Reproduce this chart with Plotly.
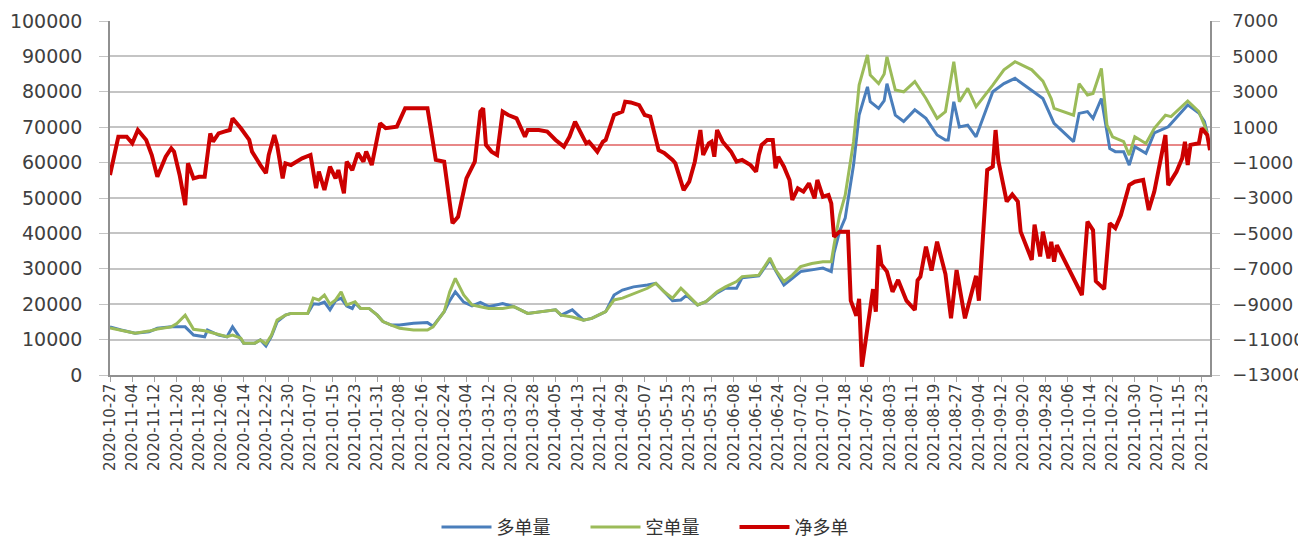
import pandas as pd
import plotly.graph_objects as go

# ---------------- data ----------------
long_dates = [
    "2020-10-27", "2020-10-31", "2020-11-05", "2020-11-10", "2020-11-13", "2020-11-18", "2020-11-23",
    "2020-11-26", "2020-11-30", "2020-12-01", "2020-12-05", "2020-12-08", "2020-12-10", "2020-12-13",
    "2020-12-14", "2020-12-18", "2020-12-20", "2020-12-22", "2020-12-24", "2020-12-26", "2020-12-29",
    "2020-12-31", "2021-01-06", "2021-01-08", "2021-01-10", "2021-01-12", "2021-01-14", "2021-01-16",
    "2021-01-18", "2021-01-20", "2021-01-22", "2021-01-23", "2021-01-25", "2021-01-28", "2021-01-31",
    "2021-02-02", "2021-02-05", "2021-02-08", "2021-02-13", "2021-02-18", "2021-02-20", "2021-02-24",
    "2021-02-26", "2021-02-28", "2021-03-03", "2021-03-06", "2021-03-09", "2021-03-12", "2021-03-17",
    "2021-03-21", "2021-03-26", "2021-03-31", "2021-04-05", "2021-04-07", "2021-04-11", "2021-04-15",
    "2021-04-18", "2021-04-23", "2021-04-26", "2021-04-29", "2021-05-03", "2021-05-08", "2021-05-11",
    "2021-05-14", "2021-05-17", "2021-05-20", "2021-05-22", "2021-05-26", "2021-05-29", "2021-06-02",
    "2021-06-05", "2021-06-09", "2021-06-11", "2021-06-17", "2021-06-21", "2021-06-23", "2021-06-26",
    "2021-06-29", "2021-07-02", "2021-07-06", "2021-07-10", "2021-07-13", "2021-07-14", "2021-07-16",
    "2021-07-18", "2021-07-21", "2021-07-23", "2021-07-26", "2021-07-27", "2021-07-30", "2021-08-01",
    "2021-08-02", "2021-08-05", "2021-08-08", "2021-08-12", "2021-08-16", "2021-08-20", "2021-08-23",
    "2021-08-24", "2021-08-26", "2021-08-28", "2021-08-31", "2021-09-03", "2021-09-09", "2021-09-13",
    "2021-09-17", "2021-09-23", "2021-09-27", "2021-10-01", "2021-10-08", "2021-10-10", "2021-10-13",
    "2021-10-15", "2021-10-18", "2021-10-21", "2021-10-23", "2021-10-26", "2021-10-28", "2021-10-30",
    "2021-11-03", "2021-11-06", "2021-11-11", "2021-11-18", "2021-11-22", "2021-11-24", "2021-11-25",
]
long_vals = [
    13600, 12700, 11800, 12200, 13200, 13600, 13600,
    11300, 10800, 12700, 11300, 10800, 13600, 10400,
    9000, 9000, 9900, 8200, 11000, 15000, 16900,
    17400, 17400, 20100, 20000, 20600, 18400, 21000,
    21700, 19500, 18800, 20300, 18800, 18800, 16900,
    15100, 14100, 14100, 14600, 14800, 13800, 17900,
    21000, 23500, 20600, 19500, 20500, 19300, 20200,
    19300, 17400, 17900, 18400, 16900, 18400, 15500,
    16000, 17900, 22600, 24000, 24900, 25400, 25900,
    23500, 21000, 21200, 22500, 19800, 20700, 23200,
    24500, 24500, 27500, 28000, 32500, 29500, 25400,
    27300, 29200, 29700, 30200, 29200, 34500, 40600,
    44300, 59300, 73400, 81400, 77200, 75300, 77500,
    82300, 73400, 71600, 74900, 72500, 67800, 66400,
    66400, 77200, 70100, 70600, 67300, 80000, 82300,
    83800, 80500, 78100, 71100, 65900, 73900, 74400,
    72500, 78100, 64000, 63100, 63100, 59300, 64500,
    62600, 68400, 70100, 76300, 74000, 71600, 68500,
]

short_dates = [
    "2020-10-27", "2020-10-31", "2020-11-05", "2020-11-10", "2020-11-13", "2020-11-18", "2020-11-20",
    "2020-11-23", "2020-11-26", "2020-11-30", "2020-12-05", "2020-12-08", "2020-12-10", "2020-12-13",
    "2020-12-14", "2020-12-18", "2020-12-20", "2020-12-22", "2020-12-24", "2020-12-26", "2020-12-29",
    "2020-12-31", "2021-01-06", "2021-01-08", "2021-01-10", "2021-01-12", "2021-01-14", "2021-01-16",
    "2021-01-18", "2021-01-20", "2021-01-22", "2021-01-23", "2021-01-25", "2021-01-28", "2021-01-31",
    "2021-02-02", "2021-02-05", "2021-02-08", "2021-02-13", "2021-02-18", "2021-02-20", "2021-02-24",
    "2021-02-26", "2021-02-28", "2021-03-03", "2021-03-06", "2021-03-09", "2021-03-12", "2021-03-17",
    "2021-03-21", "2021-03-26", "2021-03-31", "2021-04-05", "2021-04-07", "2021-04-11", "2021-04-15",
    "2021-04-18", "2021-04-23", "2021-04-26", "2021-04-29", "2021-05-03", "2021-05-08", "2021-05-11",
    "2021-05-14", "2021-05-17", "2021-05-20", "2021-05-22", "2021-05-26", "2021-05-29", "2021-06-02",
    "2021-06-05", "2021-06-09", "2021-06-11", "2021-06-17", "2021-06-21", "2021-06-23", "2021-06-26",
    "2021-06-29", "2021-07-02", "2021-07-06", "2021-07-10", "2021-07-13", "2021-07-14", "2021-07-16",
    "2021-07-18", "2021-07-21", "2021-07-23", "2021-07-26", "2021-07-27", "2021-07-30", "2021-08-01",
    "2021-08-02", "2021-08-05", "2021-08-08", "2021-08-12", "2021-08-16", "2021-08-20", "2021-08-23",
    "2021-08-26", "2021-08-28", "2021-08-31", "2021-09-03", "2021-09-09", "2021-09-13", "2021-09-17",
    "2021-09-23", "2021-09-27", "2021-09-30", "2021-10-01", "2021-10-08", "2021-10-10", "2021-10-13",
    "2021-10-15", "2021-10-18", "2021-10-20", "2021-10-22", "2021-10-26", "2021-10-28", "2021-10-30",
    "2021-11-03", "2021-11-06", "2021-11-10", "2021-11-12", "2021-11-18", "2021-11-22", "2021-11-24",
    "2021-11-25",
]
short_vals = [
    13300, 12700, 11800, 12400, 13000, 13600, 14500,
    16900, 12900, 12500, 11300, 10800, 11300, 10400,
    9000, 9000, 9900, 8800, 11300, 15500, 16900,
    17400, 17400, 21700, 21200, 22600, 20000, 21200,
    23500, 19800, 20400, 20700, 18800, 18800, 16900,
    15100, 14100, 13200, 12700, 12700, 13600, 17900,
    23500, 27300, 22600, 19800, 19300, 18800, 18800,
    19300, 17400, 17900, 18400, 16900, 16400, 15500,
    16000, 17900, 21200, 21700, 23000, 24500, 25900,
    23500, 21700, 24500, 23000, 19800, 20700, 23500,
    24900, 26400, 27800, 28200, 33000, 29700, 26400,
    28200, 30600, 31500, 32000, 32000, 36700, 45200,
    50800, 65900, 81900, 90400, 84700, 82300, 85000,
    89900, 80500, 80000, 82900, 78100, 72500, 74400,
    88500, 77200, 81000, 75800, 81900, 86200, 88500,
    86200, 83000, 78000, 75300, 73400, 82300, 79100,
    79500, 86600, 70600, 67300, 65900, 62100, 67300,
    65400, 69700, 73400, 73000, 77400, 74400, 70600,
    68000,
]

net_dates = [
    "2020-10-27", "2020-10-30", "2020-11-02", "2020-11-04", "2020-11-06", "2020-11-09", "2020-11-11",
    "2020-11-13", "2020-11-16", "2020-11-18", "2020-11-19", "2020-11-21", "2020-11-23", "2020-11-24",
    "2020-11-26", "2020-11-28", "2020-11-30", "2020-12-02", "2020-12-03", "2020-12-05", "2020-12-07",
    "2020-12-09", "2020-12-10", "2020-12-13", "2020-12-16", "2020-12-17", "2020-12-20", "2020-12-22",
    "2020-12-23", "2020-12-25", "2020-12-26", "2020-12-28", "2020-12-29", "2020-12-31", "2021-01-04",
    "2021-01-07", "2021-01-09", "2021-01-10", "2021-01-12", "2021-01-14", "2021-01-16", "2021-01-17",
    "2021-01-19", "2021-01-20", "2021-01-22", "2021-01-24", "2021-01-26", "2021-01-27", "2021-01-29",
    "2021-02-01", "2021-02-03", "2021-02-07", "2021-02-10", "2021-02-18", "2021-02-21", "2021-02-24",
    "2021-02-27", "2021-03-01", "2021-03-04", "2021-03-07", "2021-03-09", "2021-03-10", "2021-03-11",
    "2021-03-13", "2021-03-15", "2021-03-17", "2021-03-19", "2021-03-22", "2021-03-25", "2021-03-26",
    "2021-03-30", "2021-04-02", "2021-04-05", "2021-04-08", "2021-04-10", "2021-04-12", "2021-04-16",
    "2021-04-17", "2021-04-20", "2021-04-22", "2021-04-23", "2021-04-26", "2021-04-29", "2021-04-30",
    "2021-05-02", "2021-05-05", "2021-05-07", "2021-05-09", "2021-05-12", "2021-05-14", "2021-05-17",
    "2021-05-18", "2021-05-21", "2021-05-23", "2021-05-25", "2021-05-27", "2021-05-28", "2021-05-30",
    "2021-05-31", "2021-06-01", "2021-06-02", "2021-06-04", "2021-06-07", "2021-06-09", "2021-06-11",
    "2021-06-14", "2021-06-16", "2021-06-17", "2021-06-18", "2021-06-20", "2021-06-22", "2021-06-23",
    "2021-06-24", "2021-06-26", "2021-06-28", "2021-06-29", "2021-07-01", "2021-07-03", "2021-07-05",
    "2021-07-07", "2021-07-08", "2021-07-10", "2021-07-12", "2021-07-13", "2021-07-14", "2021-07-16",
    "2021-07-19", "2021-07-20", "2021-07-22", "2021-07-23", "2021-07-24", "2021-07-26", "2021-07-28",
    "2021-07-29", "2021-07-30", "2021-07-31", "2021-08-02", "2021-08-04", "2021-08-06", "2021-08-09",
    "2021-08-12", "2021-08-13", "2021-08-14", "2021-08-16", "2021-08-18", "2021-08-20", "2021-08-23",
    "2021-08-25", "2021-08-27", "2021-08-30", "2021-09-02", "2021-09-03", "2021-09-04", "2021-09-06",
    "2021-09-07", "2021-09-09", "2021-09-10", "2021-09-11", "2021-09-14", "2021-09-16", "2021-09-18",
    "2021-09-19", "2021-09-23", "2021-09-24", "2021-09-26", "2021-09-27", "2021-09-29", "2021-09-30",
    "2021-10-01", "2021-10-02", "2021-10-11", "2021-10-13", "2021-10-15", "2021-10-16", "2021-10-19",
    "2021-10-21", "2021-10-23", "2021-10-25", "2021-10-28", "2021-10-30", "2021-11-02", "2021-11-04",
    "2021-11-06", "2021-11-10", "2021-11-11", "2021-11-14", "2021-11-16", "2021-11-17", "2021-11-18",
    "2021-11-19", "2021-11-22", "2021-11-23", "2021-11-25", "2021-11-26",
]
net_vals = [
    -1700, 460, 460, 90, 840, 280, -570,
    -1800, -670, -190, -380, -1700, -3400, -1040,
    -1890, -1800, -1800, 650, 180, 650, 750,
    840, 1500, 940, 280, -380, -1140, -1600,
    -570, 560, 0, -1890, -1040, -1140, -760,
    -570, -2450, -1510, -2550, -1230, -1890, -1420,
    -2740, -950, -1420, -470, -950, -380, -1140,
    1220, 940, 1030, 2070, 2070, -850, -950,
    -4430, -4060, -1890, -950, 1880, 2070, 0,
    -380, -570, 1880, 1690, 1500, 460, 840,
    840, 750, 280, -100, 460, 1310, 90,
    180, -380, 180, 280, 1690, 1880, 2440,
    2400, 2250, 1690, 1600, -300, -450, -850,
    -1040, -2550, -2080, -950, 840, -570, 90,
    180, -670, 840, 180, -380, -950, -850,
    -1140, -1510, -570, 0, 280, 280, -1320,
    -670, -1230, -1980, -3110, -2450, -2640, -2170,
    -3020, -1980, -2930, -2830, -3300, -5190, -4900,
    -4900, -8800, -9650, -8700, -12530, -10200, -8150,
    -9420, -5660, -6750, -7160, -8300, -7630, -8800,
    -9330, -7650, -7450, -5750, -7100, -5470, -7300,
    -9800, -7070, -9800, -8000, -7400, -8800, -3590,
    -1420, -1230, 840, -900, -3200, -2800, -3200,
    -4900, -6500, -4500, -6300, -4900, -6410, -5470,
    -6600, -5660, -8480, -4340, -4810, -7700, -8150,
    -4430, -4700, -3960, -2270, -2080, -1980, -3680,
    -2640, 560, -2270, -1510, -760, 180, -1140,
    0, 90, 940, 560, -300,
]

series_names = ["多单量", "空单量", "净多单"]
series_colors = ["#4A7EBB", "#9BBB59", "#CC0000"]

x_range = ["2020-10-27", "2021-11-26"]
tick_start, tick_end, tick_step = "2020-10-27", "2021-11-23", "8D"
tick_dates = pd.date_range(tick_start, tick_end, freq=tick_step)
tick_labels = [d.strftime("%Y-%m-%d") for d in tick_dates]

left_range, left_step = [0, 100000], 10000
right_range, right_step = [-13000, 7000], 2000
net_reference = 0

# ---------------- figure ----------------
fig = go.Figure()
fig.add_trace(go.Scatter(x=long_dates, y=long_vals, name=series_names[0], mode="lines",
                         line=dict(color=series_colors[0], width=3), yaxis="y"))
fig.add_trace(go.Scatter(x=short_dates, y=short_vals, name=series_names[1], mode="lines",
                         line=dict(color=series_colors[1], width=3), yaxis="y"))
fig.add_trace(go.Scatter(x=net_dates, y=net_vals, name=series_names[2], mode="lines",
                         line=dict(color=series_colors[2], width=4), yaxis="y2"))

fig.add_shape(type="line", xref="paper", x0=0, x1=1, yref="y2", y0=net_reference, y1=net_reference,
              line=dict(color="#E06060", width=1.5), layer="between")

left_font = dict(family="DejaVu Sans", size=19, color="#404040")
right_font = dict(family="DejaVu Sans", size=18, color="#404040")

# the page adds an 8px body margin, so the figure is sized to fit inside the window
fig.update_layout(
    width=1298, height=532,
    margin=dict(l=102, r=96, t=13, b=165, autoexpand=False),
    paper_bgcolor="white", plot_bgcolor="white",
    showlegend=True,
    legend=dict(orientation="h", x=0.5, xanchor="center", y=-0.43, yanchor="middle",
                font=dict(family="Noto Sans CJK SC", size=18, color="#333333"),
                entrywidth=84, entrywidthmode="pixels", itemwidth=50),
    xaxis=dict(type="date", range=x_range, tickvals=tick_dates, ticktext=tick_labels,
               tickangle=-90, tickfont=dict(family="DejaVu Sans", size=15, color="#404040"),
               ticks="outside", ticklen=5, tickcolor="#A0A0A0", ticklabelstandoff=-4,
               showgrid=False, automargin=False,
               showline=True, linecolor="#909090", linewidth=1.5, zeroline=False),
    yaxis=dict(range=left_range, dtick=left_step, tick0=0, tickformat="d", tickfont=left_font,
               showgrid=True, gridcolor="#C4C4C4", gridwidth=1.5, automargin=False,
               ticks="outside", ticklen=9, tickcolor="#C4C4C4", ticklabelstandoff=13,
               showline=True, linecolor="#909090", linewidth=1.5, zeroline=False),
    yaxis2=dict(range=right_range, dtick=right_step, tick0=-13000, tickformat="d", tickfont=right_font,
                overlaying="y", side="right", showgrid=False, automargin=False,
                ticks="outside", ticklen=8, tickcolor="#C4C4C4", ticklabelstandoff=9,
                showline=True, linecolor="#909090", linewidth=1.5, zeroline=False),
)

fig.write_html("out.html")
